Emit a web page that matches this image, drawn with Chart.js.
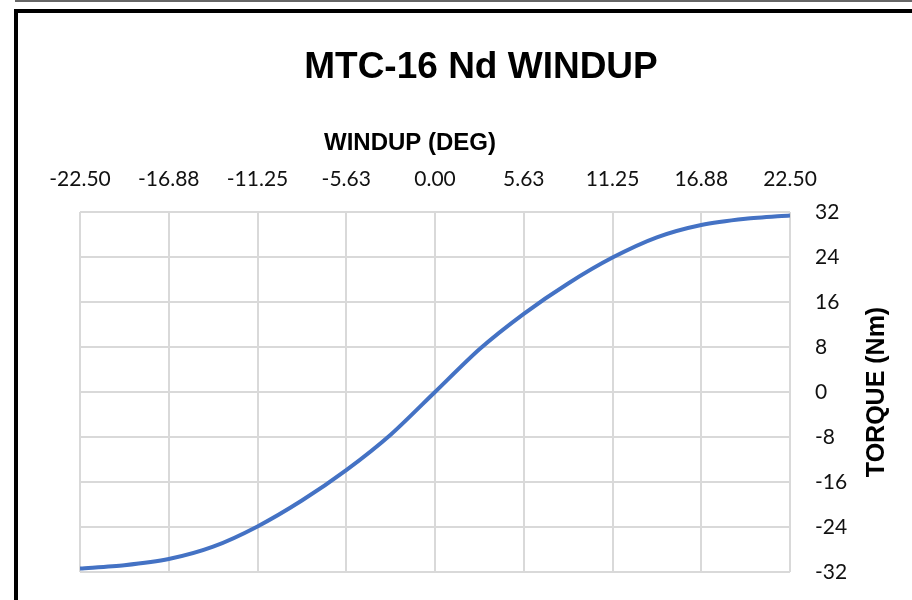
<!DOCTYPE html>
<html>
<head>
<meta charset="utf-8">
<script src="https://cdn.jsdelivr.net/npm/chart.js@4"></script>
<style>
    html, body { margin: 0; padding: 0; background: #fff; }
    #wrap { position: relative; width: 912px; height: 600px; overflow: hidden; }
    #topline { position: absolute; left: 15px; top: 0; width: 900px; height: 2px; background: #666; }
    #marco { position: absolute; left: 14px; top: 9px; width: 1000px; height: 700px; border: 4px solid #000; }
    #grafica { position: absolute; left: 0; top: 0; width: 912px; height: 600px; }
</style>
</head>
<body>
<div id="wrap">
    <div id="topline"></div>
    <div id="marco"></div>
    <canvas id="grafica" width="912" height="600"></canvas>
</div>
<script>
/* ===============================
   DATOS
================================= */
let windup = [-22.5, -19.6875, -16.875, -14.0625, -11.25, -8.4375, -5.625, -2.8125, 0,
              2.8125, 5.625, 8.4375, 11.25, 14.0625, 16.875, 19.6875, 22.5];
let torque = [-31.4, -30.8, -29.7, -27.5, -23.9, -19.3, -13.9, -7.6, 0,
              7.6, 13.9, 19.3, 23.9, 27.5, 29.7, 30.8, 31.4];

let ticksX = [-22.5, -16.875, -11.25, -5.625, 0, 5.625, 11.25, 16.875, 22.5];
let ticksY = [-32, -24, -16, -8, 0, 8, 16, 24, 32];

let titulo = "MTC-16 Nd WINDUP";
let tituloX = "WINDUP (DEG)";
let tituloY = "TORQUE (Nm)";

/* ===============================
   TITULOS DE EJES
================================= */
const titulosEjes = {
    id: "titulosEjes",
    afterDraw(chart) {
        let ctx = chart.ctx;
        let area = chart.chartArea;
        ctx.save();
        ctx.fillStyle = "#000";
        ctx.font = "bold 24px 'Liberation Sans', Arial, sans-serif";
        ctx.textAlign = "center";
        ctx.textBaseline = "middle";
        ctx.fillText(tituloX, area.left + 330, 143);

        ctx.font = "bold 25px 'Liberation Sans', Arial, sans-serif";
        ctx.translate(877, (area.top + area.bottom) / 2);
        ctx.rotate(-Math.PI / 2);
        ctx.fillText(tituloY, 0, 0);
        ctx.restore();
    }
};

let ctx = document.getElementById("grafica").getContext("2d");

new Chart(ctx, {
    type: "line",
    data: {
        datasets: [{
            data: windup.map((x, i) => ({ x: x, y: torque[i] })),
            borderColor: "#4472c4",
            borderWidth: 4,
            pointRadius: 0,
            tension: 0.25,
            fill: false
        }]
    },
    options: {
        responsive: false,
        maintainAspectRatio: false,
        animation: false,
        layout: {
            padding: { left: 80, right: 30, top: 0, bottom: 28 }
        },
        plugins: {
            legend: { display: false },
            tooltip: { enabled: false },
            title: {
                display: true,
                text: titulo,
                color: "#000",
                font: { family: "'Liberation Sans', Arial, sans-serif", size: 37, weight: "bold" },
                padding: { top: 46, bottom: 0 }
            }
        },
        scales: {
            x: {
                type: "linear",
                position: "top",
                min: -22.5,
                max: 22.5,
                afterBuildTicks: (scale) => { scale.ticks = ticksX.map(v => ({ value: v })); },
                afterFit: (scale) => { scale.height = 121.6; },
                ticks: {
                    color: "#111",
                    padding: 20,
                    maxRotation: 0,
                    font: { family: "Lato, 'DejaVu Sans', sans-serif", size: 21 },
                    callback: (v) => v.toFixed(2)
                },
                grid: { color: "#d9d9d9", lineWidth: 2, drawTicks: false },
                border: { display: false }
            },
            y: {
                position: "right",
                min: -32,
                max: 32,
                afterBuildTicks: (scale) => { scale.ticks = ticksY.map(v => ({ value: v })); },
                afterFit: (scale) => { scale.width = 92; scale.paddingTop = 0; scale.paddingBottom = 0; },
                ticks: {
                    color: "#111",
                    padding: 25,
                    font: { family: "Lato, 'DejaVu Sans', sans-serif", size: 21 }
                },
                grid: { color: "#d9d9d9", lineWidth: 2, drawTicks: false },
                border: { display: false }
            }
        }
    },
    plugins: [titulosEjes]
});
</script>
</body>
</html>
